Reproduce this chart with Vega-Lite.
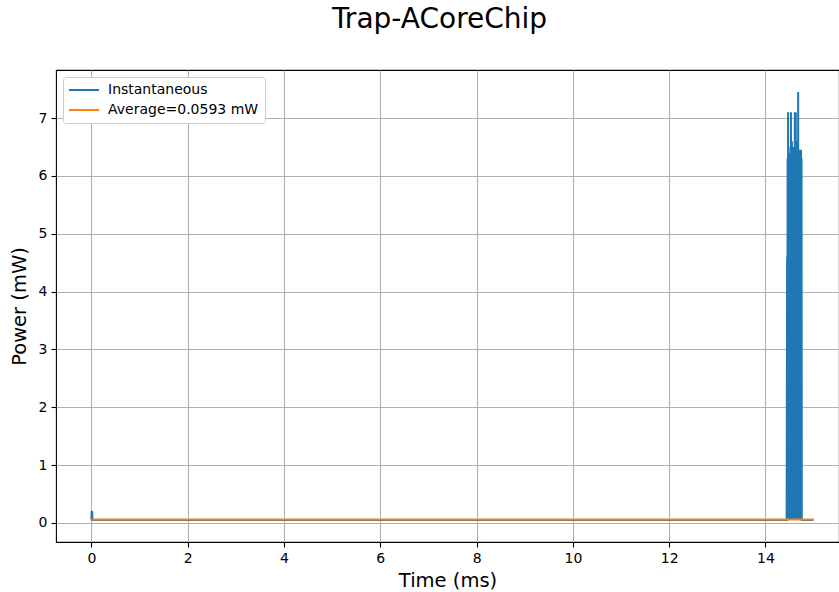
{
  "$schema": "https://vega.github.io/schema/vega-lite/v6.json",
  "width": 783,
  "height": 472,
  "autosize": {"type": "none"},
  "padding": {"left": 56, "top": 70, "right": 0, "bottom": 50},
  "background": "white",
  "title": {"text": "Trap-ACoreChip", "fontSize": 28, "font": "DejaVu Sans", "fontWeight": "normal", "color": "black", "offset": 36, "dx": -8, "anchor": "middle"},
  "datasets": {
    "inst": [
      {"t": 0, "p": 0.05}, {"t": 0.004, "p": 0.21}, {"t": 0.008, "p": 0.05}, {"t": 0.014, "p": 0.2}, {"t": 0.02, "p": 0.05},
      {"t": 14.44, "p": 0.05},
      {"t": 14.45, "p": 4.6}, {"t": 14.455, "p": 0.05},
      {"t": 14.46, "p": 6.3}, {"t": 14.465, "p": 0.05},
      {"t": 14.47, "p": 7.1}, {"t": 14.475, "p": 0.05},
      {"t": 14.48, "p": 6.3}, {"t": 14.485, "p": 0.05},
      {"t": 14.49, "p": 6.3}, {"t": 14.495, "p": 0.05},
      {"t": 14.5, "p": 6.4}, {"t": 14.505, "p": 0.05},
      {"t": 14.51, "p": 6.3}, {"t": 14.515, "p": 0.05},
      {"t": 14.52, "p": 6.5}, {"t": 14.525, "p": 0.05},
      {"t": 14.53, "p": 7.1}, {"t": 14.535, "p": 0.05},
      {"t": 14.54, "p": 6.3}, {"t": 14.545, "p": 0.05},
      {"t": 14.55, "p": 6.6}, {"t": 14.555, "p": 0.05},
      {"t": 14.56, "p": 6.3}, {"t": 14.565, "p": 0.05},
      {"t": 14.57, "p": 6.3}, {"t": 14.575, "p": 0.05},
      {"t": 14.58, "p": 6.5}, {"t": 14.585, "p": 0.05},
      {"t": 14.59, "p": 6.3}, {"t": 14.595, "p": 0.05},
      {"t": 14.6, "p": 6.3}, {"t": 14.605, "p": 0.05},
      {"t": 14.61, "p": 7.1}, {"t": 14.615, "p": 0.05},
      {"t": 14.62, "p": 6.3}, {"t": 14.625, "p": 0.05},
      {"t": 14.63, "p": 7.1}, {"t": 14.635, "p": 0.05},
      {"t": 14.64, "p": 6.5}, {"t": 14.645, "p": 0.05},
      {"t": 14.65, "p": 6.3}, {"t": 14.655, "p": 0.05},
      {"t": 14.66, "p": 6.6}, {"t": 14.665, "p": 0.05},
      {"t": 14.67, "p": 6.3}, {"t": 14.675, "p": 0.05},
      {"t": 14.68, "p": 7.45}, {"t": 14.685, "p": 0.05},
      {"t": 14.69, "p": 6.3}, {"t": 14.695, "p": 0.05},
      {"t": 14.7, "p": 6.3}, {"t": 14.705, "p": 0.05},
      {"t": 14.71, "p": 6.3}, {"t": 14.715, "p": 0.05},
      {"t": 14.72, "p": 6.45}, {"t": 14.725, "p": 0.05},
      {"t": 14.73, "p": 6.45}, {"t": 14.735, "p": 0.05},
      {"t": 14.74, "p": 6.45}, {"t": 14.745, "p": 0.05},
      {"t": 14.75, "p": 6.3}, {"t": 14.755, "p": 0.05},
      {"t": 15, "p": 0.05}
    ],
    "avg": [
      {"t": 0, "p": 0.0593}, {"t": 15, "p": 0.0593}
    ]
  },
  "config": {
    "font": "DejaVu Sans",
    "view": {"stroke": "black", "strokeWidth": 1.1},
    "axis": {
      "domain": false,
      "grid": true,
      "gridColor": "#b0b0b0",
      "gridWidth": 1.1,
      "tickColor": "black",
      "tickSize": 5,
      "tickWidth": 1.1,
      "labelFontSize": 14,
      "labelColor": "black",
      "labelPadding": 4,
      "titleFontSize": 19.5,
      "titleFontWeight": "normal",
      "titleColor": "black"
    }
  },
  "layer": [
    {
      "data": {"name": "inst"},
      "transform": [{"calculate": "'Instantaneous'", "as": "s"}],
      "mark": {"type": "line", "strokeWidth": 2, "clip": true, "interpolate": "linear"},
      "encoding": {
        "x": {"field": "t", "type": "quantitative", "scale": {"domain": [-0.737, 15.528], "nice": false, "zero": false}, "axis": {"values": [0, 2, 4, 6, 8, 10, 12, 14], "format": "d", "title": "Time (ms)", "titlePadding": 6}},
        "y": {"field": "p", "type": "quantitative", "scale": {"domain": [-0.33, 7.83], "nice": false, "zero": false}, "axis": {"values": [0, 1, 2, 3, 4, 5, 6, 7], "format": "d", "title": "Power (mW)", "titlePadding": 9}},
        "color": {"field": "s", "type": "nominal", "scale": {"domain": ["Instantaneous", "Average=0.0593 mW"], "range": ["#1f77b4", "#ff7f0e"]},
          "legend": {"title": null, "orient": "top-left", "offset": 7, "padding": 6, "fillColor": "white", "strokeColor": "#cccccc", "cornerRadius": 3, "labelFontSize": 14, "labelColor": "black", "symbolType": "M-2.5,0H2.5", "symbolSize": 144, "symbolStrokeWidth": 2, "symbolOffset": 8, "rowPadding": 6, "labelOffset": 17}}
      }
    },
    {
      "data": {"name": "avg"},
      "transform": [{"calculate": "'Average=0.0593 mW'", "as": "s"}],
      "mark": {"type": "line", "strokeWidth": 2, "clip": true},
      "encoding": {
        "x": {"field": "t", "type": "quantitative"},
        "y": {"field": "p", "type": "quantitative"},
        "color": {"field": "s", "type": "nominal"}
      }
    }
  ]
}
